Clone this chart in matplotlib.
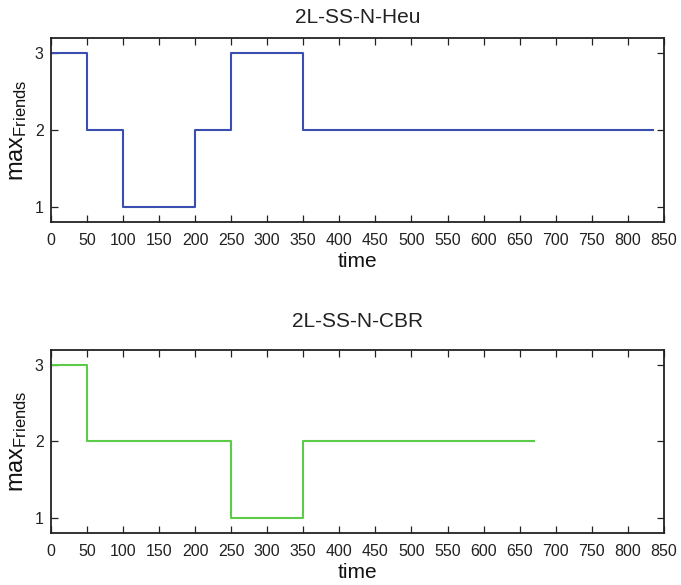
import matplotlib
matplotlib.use("Agg")
import matplotlib.pyplot as plt

plt.rcParams['font.family'] = ['Liberation Sans', 'DejaVu Sans']
plt.rcParams['mathtext.fontset'] = 'custom'
plt.rcParams['mathtext.rm'] = 'Liberation Sans'
plt.rcParams['mathtext.it'] = 'Liberation Sans:italic'

# Data (step changes)
heu_time = [0, 50, 100, 200, 250, 350, 835]
heu_vals = [3, 2, 1, 2, 3, 2, 2]
cbr_time = [0, 50, 250, 350, 670]
cbr_vals = [3, 2, 1, 2, 2]

titles = ["2L-SS-N-Heu", "2L-SS-N-CBR"]
colors = ["#3a4db0", "#5ccb4a"]
xticks = list(range(0, 851, 50))
yticks = [1, 2, 3]

fig = plt.figure(figsize=(6.81, 5.85), dpi=100)
ax1 = fig.add_axes([0.0745, 0.6205, 0.9005, 0.3145])
ax2 = fig.add_axes([0.0745, 0.0889, 0.9005, 0.3128])

for ax, t, v, title, c, tpad in [(ax1, heu_time, heu_vals, titles[0], colors[0], 10.8),
                                 (ax2, cbr_time, cbr_vals, titles[1], colors[1], 16.5)]:
    ax.step(t, v, where='post', color=c, linewidth=1.5)
    ax.set_xlim(0, 850)
    ax.set_ylim(0.8, 3.2)
    ax.set_xticks(xticks)
    ax.set_yticks(yticks)
    ax.tick_params(direction='in', top=True, right=True, labelsize=11.5,
                   length=5, width=0.9, colors='#222222')
    ax.tick_params(axis='x', pad=8)
    ax.tick_params(axis='y', pad=5)
    for s in ax.spines.values():
        s.set_linewidth(1.3)
        s.set_color('#222222')
    ax.set_title(title, fontsize=15, pad=tpad, color='#222222')
    ax.set_xlabel("time", fontsize=15, labelpad=3, color='#111111')
    ax.set_ylabel(r"$\mathrm{max}_{\mathrm{Friends}}$", fontsize=17, labelpad=4,
                  color='#111111')

fig.savefig("out.png", dpi=100)
